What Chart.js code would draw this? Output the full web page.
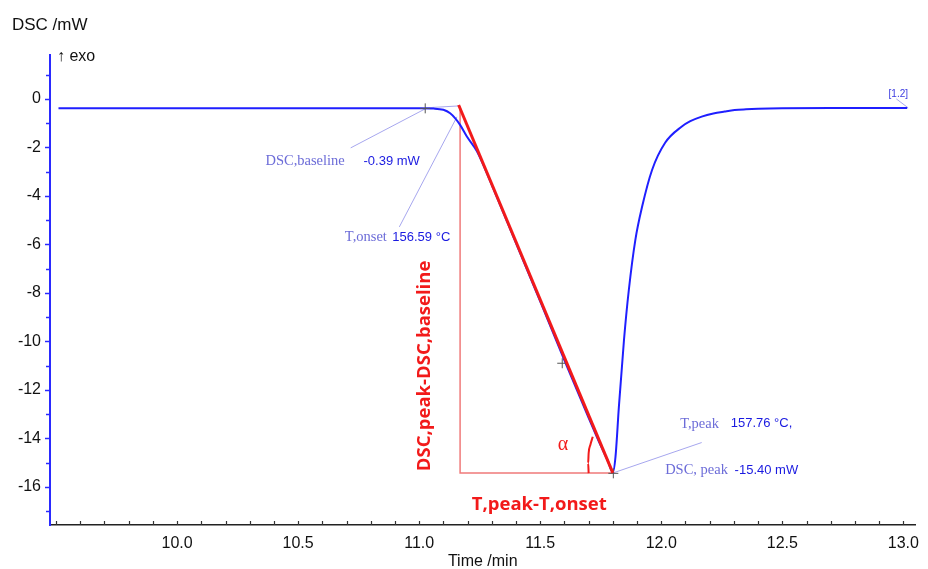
<!DOCTYPE html>
<html>
<head>
<meta charset="utf-8">
<script src="https://cdn.jsdelivr.net/npm/chart.js@4.4.0/dist/chart.umd.min.js"></script>
<style>
html, body { margin: 0; padding: 0; background: #fff; }
</style>
</head>
<body>
<canvas id="GraficoDSC" width="928" height="569"></canvas>
<script>
// curva DSC: tiempo (min) y señal (mW)
var tiempo = [9.51, 10.0, 10.5, 11.0, 11.06, 11.10, 11.128, 11.149, 11.169, 11.197, 11.238,
	11.30, 11.40, 11.50, 11.60, 11.70, 11.75, 11.78, 11.80,
	11.811, 11.825, 11.846, 11.866, 11.893, 11.921, 11.962, 12.016, 12.085, 12.12, 12.167,
	12.215, 12.262, 12.303, 12.35, 12.40, 12.50, 12.70, 13.016];
var senal = [-0.39, -0.39, -0.39, -0.39, -0.40, -0.45, -0.59, -0.80, -1.07, -1.55, -2.15,
	-3.55, -5.95, -8.35, -10.78, -13.15, -14.30, -14.95, -15.40,
	-14.75, -12.69, -9.94, -7.88, -5.81, -4.44, -2.93, -1.81, -1.14, -0.92, -0.73,
	-0.60, -0.52, -0.46, -0.43, -0.41, -0.39, -0.38, -0.38];

// tangente del onset y triangulo
var tangenteX = [11.163, 11.800];
var tangenteY = [-0.25, -15.42];
var trianguloX = [11.169, 11.169, 11.800];
var trianguloY = [-0.30, -15.43, -15.43];
// arco del angulo alfa
var arcoX = [11.700, 11.698, 11.700, 11.707, 11.717];
var arcoY = [-15.43, -15.02, -14.61, -14.27, -13.93];
// marcas (+) de la evaluacion
var marcasX = [11.025, 11.591, 11.802];
var marcasY = [-0.39, -10.90, -15.44];
// lineas guia de las etiquetas
var guias = [
	[[11.025, -0.37], [11.163, -0.29]],
	[[10.717, -2.02], [11.025, -0.41]],
	[[10.918, -5.28], [11.156, -0.74]],
	[[11.802, -15.42], [12.167, -14.17]],
	[[12.971, 0.00], [13.020, -0.37]]
];

// ejes
var ticksY = [0, -2, -4, -6, -8, -10, -12, -14, -16];
var ticksX = [10.0, 10.5, 11.0, 11.5, 12.0, 12.5, 13.0];

// resultados de la evaluacion
var baselineDSC = '-0.39 mW';
var onsetT = '156.59 °C';
var peakT = '157.76 °C,';
var peakDSC = '-15.40 mW';

function puntos(xs, ys) {
	return xs.map(function(x, i){ return {x: x, y: ys[i]}; });
}

var azul = '#1f1fff';
var lila = '#6c6cd8';
var lilaClaro = 'rgba(150,150,235,0.85)';

var datasets = [{
		label: 'tangente',
		data: puntos(tangenteX, tangenteY),
		showLine: true, borderColor: '#f21a1a', borderWidth: 3, pointRadius: 0, order: 0
	}, {
		label: 'DSC',
		data: puntos(tiempo, senal),
		showLine: true, borderColor: azul, borderWidth: 2, pointRadius: 0,
		cubicInterpolationMode: 'monotone', order: 1
	}, {
		label: 'triangulo',
		data: puntos(trianguloX, trianguloY),
		showLine: true, borderColor: '#f07a7a', borderWidth: 1.5, pointRadius: 0, order: 3
	}, {
		label: 'alfa',
		data: puntos(arcoX, arcoY),
		showLine: true, borderColor: '#f21a1a', borderWidth: 2, pointRadius: 0,
		cubicInterpolationMode: 'monotone', order: 2
	}, {
		label: 'marcas',
		data: puntos(marcasX, marcasY),
		showLine: false, pointStyle: 'cross', pointRadius: 5, borderColor: '#555', borderWidth: 1, order: 0
	}];
guias.forEach(function(g){
	datasets.push({
		label: 'guia',
		data: [{x: g[0][0], y: g[0][1]}, {x: g[1][0], y: g[1][1]}],
		showLine: true, borderColor: lilaClaro, borderWidth: 1, pointRadius: 0, order: 4
	});
});

// textos de la evaluacion y marcas de los ejes
var anotaciones = {
	id: 'anotaciones',
	afterDraw: function(chart){
		var ctx = chart.ctx;
		var sx = chart.scales.x, sy = chart.scales.y;
		var area = chart.chartArea;
		function px(x){ return sx.getPixelForValue(x); }
		function py(y){ return sy.getPixelForValue(y); }
		function texto(t, x, y, font, color, align){
			ctx.font = font;
			ctx.fillStyle = color;
			ctx.textAlign = align || 'left';
			ctx.textBaseline = 'middle';
			ctx.fillText(t, x, y);
		}
		ctx.save();
		// marcas eje Y (cada 1 mW)
		ctx.strokeStyle = '#2a2aff';
		ctx.lineWidth = 1.5;
		for (var v = -17; v <= 1; v++) {
			var yy = Math.round(py(v)) + 0.5;
			var l = (v % 2 === 0) ? 5 : 4;
			ctx.beginPath(); ctx.moveTo(area.left - l, yy); ctx.lineTo(area.left, yy); ctx.stroke();
		}
		// marcas eje X (cada 0.1 min)
		ctx.strokeStyle = '#333';
		ctx.lineWidth = 1.2;
		for (var k = 95; k <= 130; k++) {
			var xx = Math.round(px(k / 10)) + 0.5;
			ctx.beginPath(); ctx.moveTo(xx, area.bottom - 4); ctx.lineTo(xx, area.bottom); ctx.stroke();
		}
		// titulos de ejes
		texto('DSC /mW', 12, 25, '17px "Liberation Sans", Arial', '#111');
		texto('↑ exo', 57, 57, '16px "Liberation Sans", Arial', '#111');
		texto('Time /min', area.left + (area.right - area.left) / 2, 562, '16px "Liberation Sans", Arial', '#111', 'center');

		// etiquetas de resultados
		var serif = '14.5px "Liberation Serif", "Times New Roman", serif';
		var sans = '13px "Liberation Sans", Arial';
		texto('DSC,baseline', px(10.365), py(-2.56), serif, lila);
		texto(baselineDSC, px(10.770), py(-2.56), sans, '#1a1ae0');
		texto('T,onset', px(10.693), py(-5.72), serif, lila);
		texto(onsetT, px(10.889), py(-5.72), sans, '#1a1ae0');
		texto('T,peak', px(12.078), py(-13.40), serif, lila);
		texto(peakT, px(12.287), py(-13.40), sans, '#1a1ae0');
		texto('DSC, peak', px(12.016), py(-15.30), serif, lila);
		texto(peakDSC, px(12.303), py(-15.30), sans, '#1a1ae0');
		texto('[1.2]', px(12.939), py(0.21), '10px "Liberation Sans", Arial', '#3a3ae0');

		// textos en rojo
		var rojo = 'bold 18.5px "Open Sans", "Liberation Sans", Arial';
		texto('α', px(11.594), py(-14.27), '20px "Liberation Serif", serif', '#f21a1a', 'center');
		texto('T,peak-T,onset', px(11.496), py(-16.74), rojo, '#f21a1a', 'center');
		ctx.translate(px(11.025), py(-11.01));
		ctx.rotate(-Math.PI / 2);
		texto('DSC,peak-DSC,baseline', 0, 0, rojo, '#f21a1a', 'center');
		ctx.restore();
	}
};

var myChartDSC = new Chart('GraficoDSC', {
	type: 'scatter',
	data: { datasets: datasets },
	options: {
		responsive: false,
		animation: false,
		devicePixelRatio: 1,
		layout: { padding: { top: 55, right: 6, left: 0, bottom: 0 } },
		plugins: { legend: { display: false }, tooltip: { enabled: false } },
		scales: {
			x: {
				type: 'linear', min: 9.475, max: 13.05,
				grid: { display: false, drawTicks: false },
				border: { display: true, color: '#222', width: 1.5 },
				afterBuildTicks: function(scale){ scale.ticks = ticksX.map(function(v){ return {value: v}; }); },
				afterFit: function(scale){ scale.height = 44; },
				ticks: {
					padding: 9, color: '#111',
					font: { family: '"Liberation Sans", Arial', size: 16 },
					callback: function(v){ return Number(v).toFixed(1); }
				}
			},
			y: {
				type: 'linear', min: -17.57, max: 1.81,
				grid: { display: false, drawTicks: false },
				border: { display: true, color: '#2a2aff', width: 2 },
				afterBuildTicks: function(scale){ scale.ticks = ticksY.map(function(v){ return {value: v}; }); },
				afterFit: function(scale){ scale.width = 50; },
				ticks: {
					padding: 9, color: '#111',
					font: { family: '"Liberation Sans", Arial', size: 16 },
					callback: function(v){ return String(v); }
				}
			}
		}
	},
	plugins: [anotaciones]
});
</script>
</body>
</html>
